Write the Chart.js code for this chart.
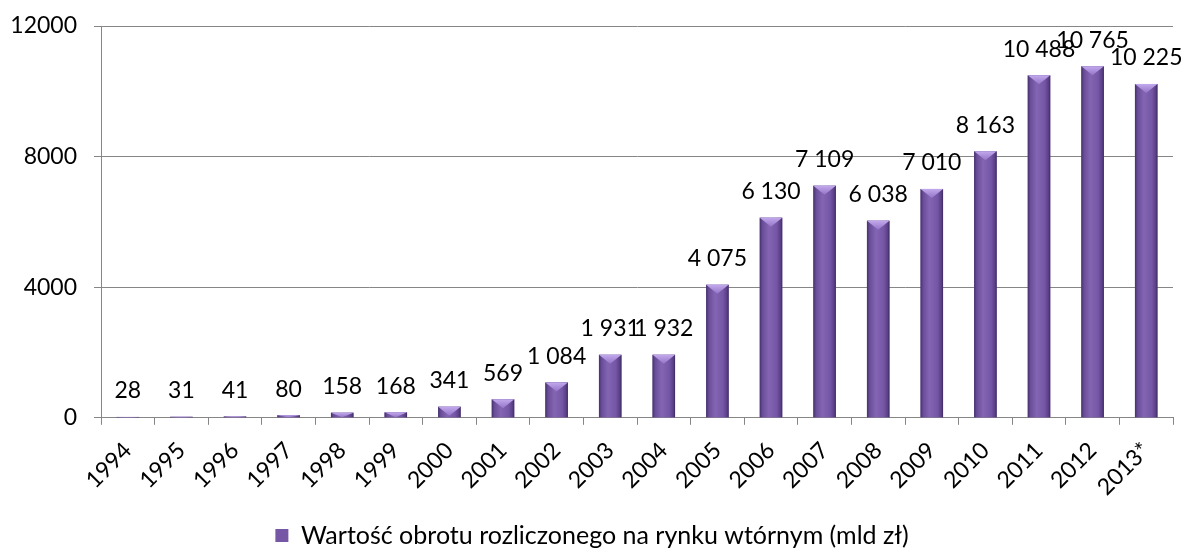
<!DOCTYPE html>
<html>
<head>
<meta charset="utf-8">
<script src="https://cdn.jsdelivr.net/npm/chart.js@4.4.0/dist/chart.umd.min.js"></script>
<style>
  html, body { margin: 0; padding: 0; background: #fff; }
  #wrap { width: 1186px; height: 558px; }
</style>
</head>
<body>
<div id="wrap"><canvas id="obrotChart"></canvas></div>
<script>
const years = ['1994', '1995', '1996', '1997', '1998', '1999', '2000', '2001', '2002', '2003',
  '2004', '2005', '2006', '2007', '2008', '2009', '2010', '2011', '2012', '2013*'];
const values = [28, 31, 41, 80, 158, 168, 341, 569, 1084, 1931,
  1932, 4075, 6130, 7109, 6038, 7010, 8163, 10488, 10765, 10225];
const yTicks = [0, 4000, 8000, 12000];
const seriesName = 'Wartość obrotu rozliczonego na rynku wtórnym (mld zł)';

const FONT = 'Lato, "Open Sans", sans-serif';

function fmt(n) {
  return String(n).replace(/\B(?=(\d{3})+(?!\d))/g, ' ');
}

// cylinder-ish shading + light bevel on top of each bar
const barShade = {
  id: 'barShade',
  afterDatasetsDraw(chart) {
    const c = chart.ctx;
    const meta = chart.getDatasetMeta(0);
    meta.data.forEach((el) => {
      const left = el.x - el.width / 2;
      const right = el.x + el.width / 2;
      const top = Math.min(el.y, el.base);
      const h = Math.abs(el.base - el.y);
      if (h <= 0) return;
      const g = c.createLinearGradient(left, 0, right, 0);
      g.addColorStop(0, '#45306a');
      g.addColorStop(0.12, '#6a4d99');
      g.addColorStop(0.4, '#8365b3');
      g.addColorStop(0.75, '#7456a6');
      g.addColorStop(0.92, '#5a3f86');
      g.addColorStop(1, '#3e2a60');
      c.save();
      c.fillStyle = g;
      c.fillRect(left, top, el.width, h);
      const d = Math.min(9, h);
      const tg = c.createLinearGradient(0, top, 0, top + d);
      tg.addColorStop(0, '#c2a9ec');
      tg.addColorStop(1, '#9474c8');
      c.fillStyle = tg;
      c.beginPath();
      c.moveTo(left, top);
      c.lineTo(right, top);
      c.lineTo(el.x, top + d);
      c.closePath();
      c.fill();
      c.restore();
    });
  }
};

const valueLabels = {
  id: 'valueLabels',
  afterDatasetsDraw(chart) {
    const c = chart.ctx;
    const meta = chart.getDatasetMeta(0);
    c.save();
    c.font = '23px ' + FONT;
    c.fillStyle = '#000';
    c.textAlign = 'center';
    c.textBaseline = 'middle';
    meta.data.forEach((el, i) => {
      c.fillText(fmt(values[i]), el.x, el.y - 26);
    });
    c.restore();
  }
};

const ctx = document.getElementById('obrotChart').getContext('2d');
const chart = new Chart(ctx, {
  type: 'bar',
  data: {
    labels: years,
    datasets: [{
      label: seriesName,
      data: values,
      backgroundColor: '#7557a6',
      borderWidth: 0,
      barPercentage: 0.42,
      categoryPercentage: 1
    }]
  },
  options: {
    responsive: true,
    maintainAspectRatio: false,
    animation: false,
    layout: { padding: { top: 26, right: 13, left: 11, bottom: 0 } },
    plugins: {
      tooltip: { enabled: false },
      legend: {
        position: 'bottom',
        labels: {
          boxWidth: 13,
          boxHeight: 13,
          padding: 10,
          color: '#000',
          font: { family: FONT, size: 25 }
        }
      }
    },
    scales: {
      x: {
        afterFit(axis) {
          axis.paddingLeft = 0;
        },
        grid: {
          display: true,
          drawOnChartArea: false,
          drawTicks: true,
          tickLength: 7,
          offset: true,
          color: '#868686'
        },
        border: { color: '#868686', width: 1 },
        ticks: {
          minRotation: 45,
          maxRotation: 45,
          color: '#000',
          padding: 12,
          font: { family: FONT, size: 23 }
        }
      },
      y: {
        min: 0,
        max: 12000,
        afterBuildTicks(axis) {
          axis.ticks = yTicks.map(v => ({ value: v }));
        },
        afterFit(axis) {
          axis.width = 90;
          axis.paddingTop = 0;
          axis.paddingBottom = 0;
        },
        grid: {
          color: '#868686',
          tickLength: 7,
          lineWidth: 1
        },
        border: { color: '#868686', width: 1 },
        ticks: {
          color: '#000',
          padding: 17,
          font: { family: FONT, size: 23 },
          callback: v => String(v)
        }
      }
    }
  },
  plugins: [barShade, valueLabels]
});
</script>
</body>
</html>
